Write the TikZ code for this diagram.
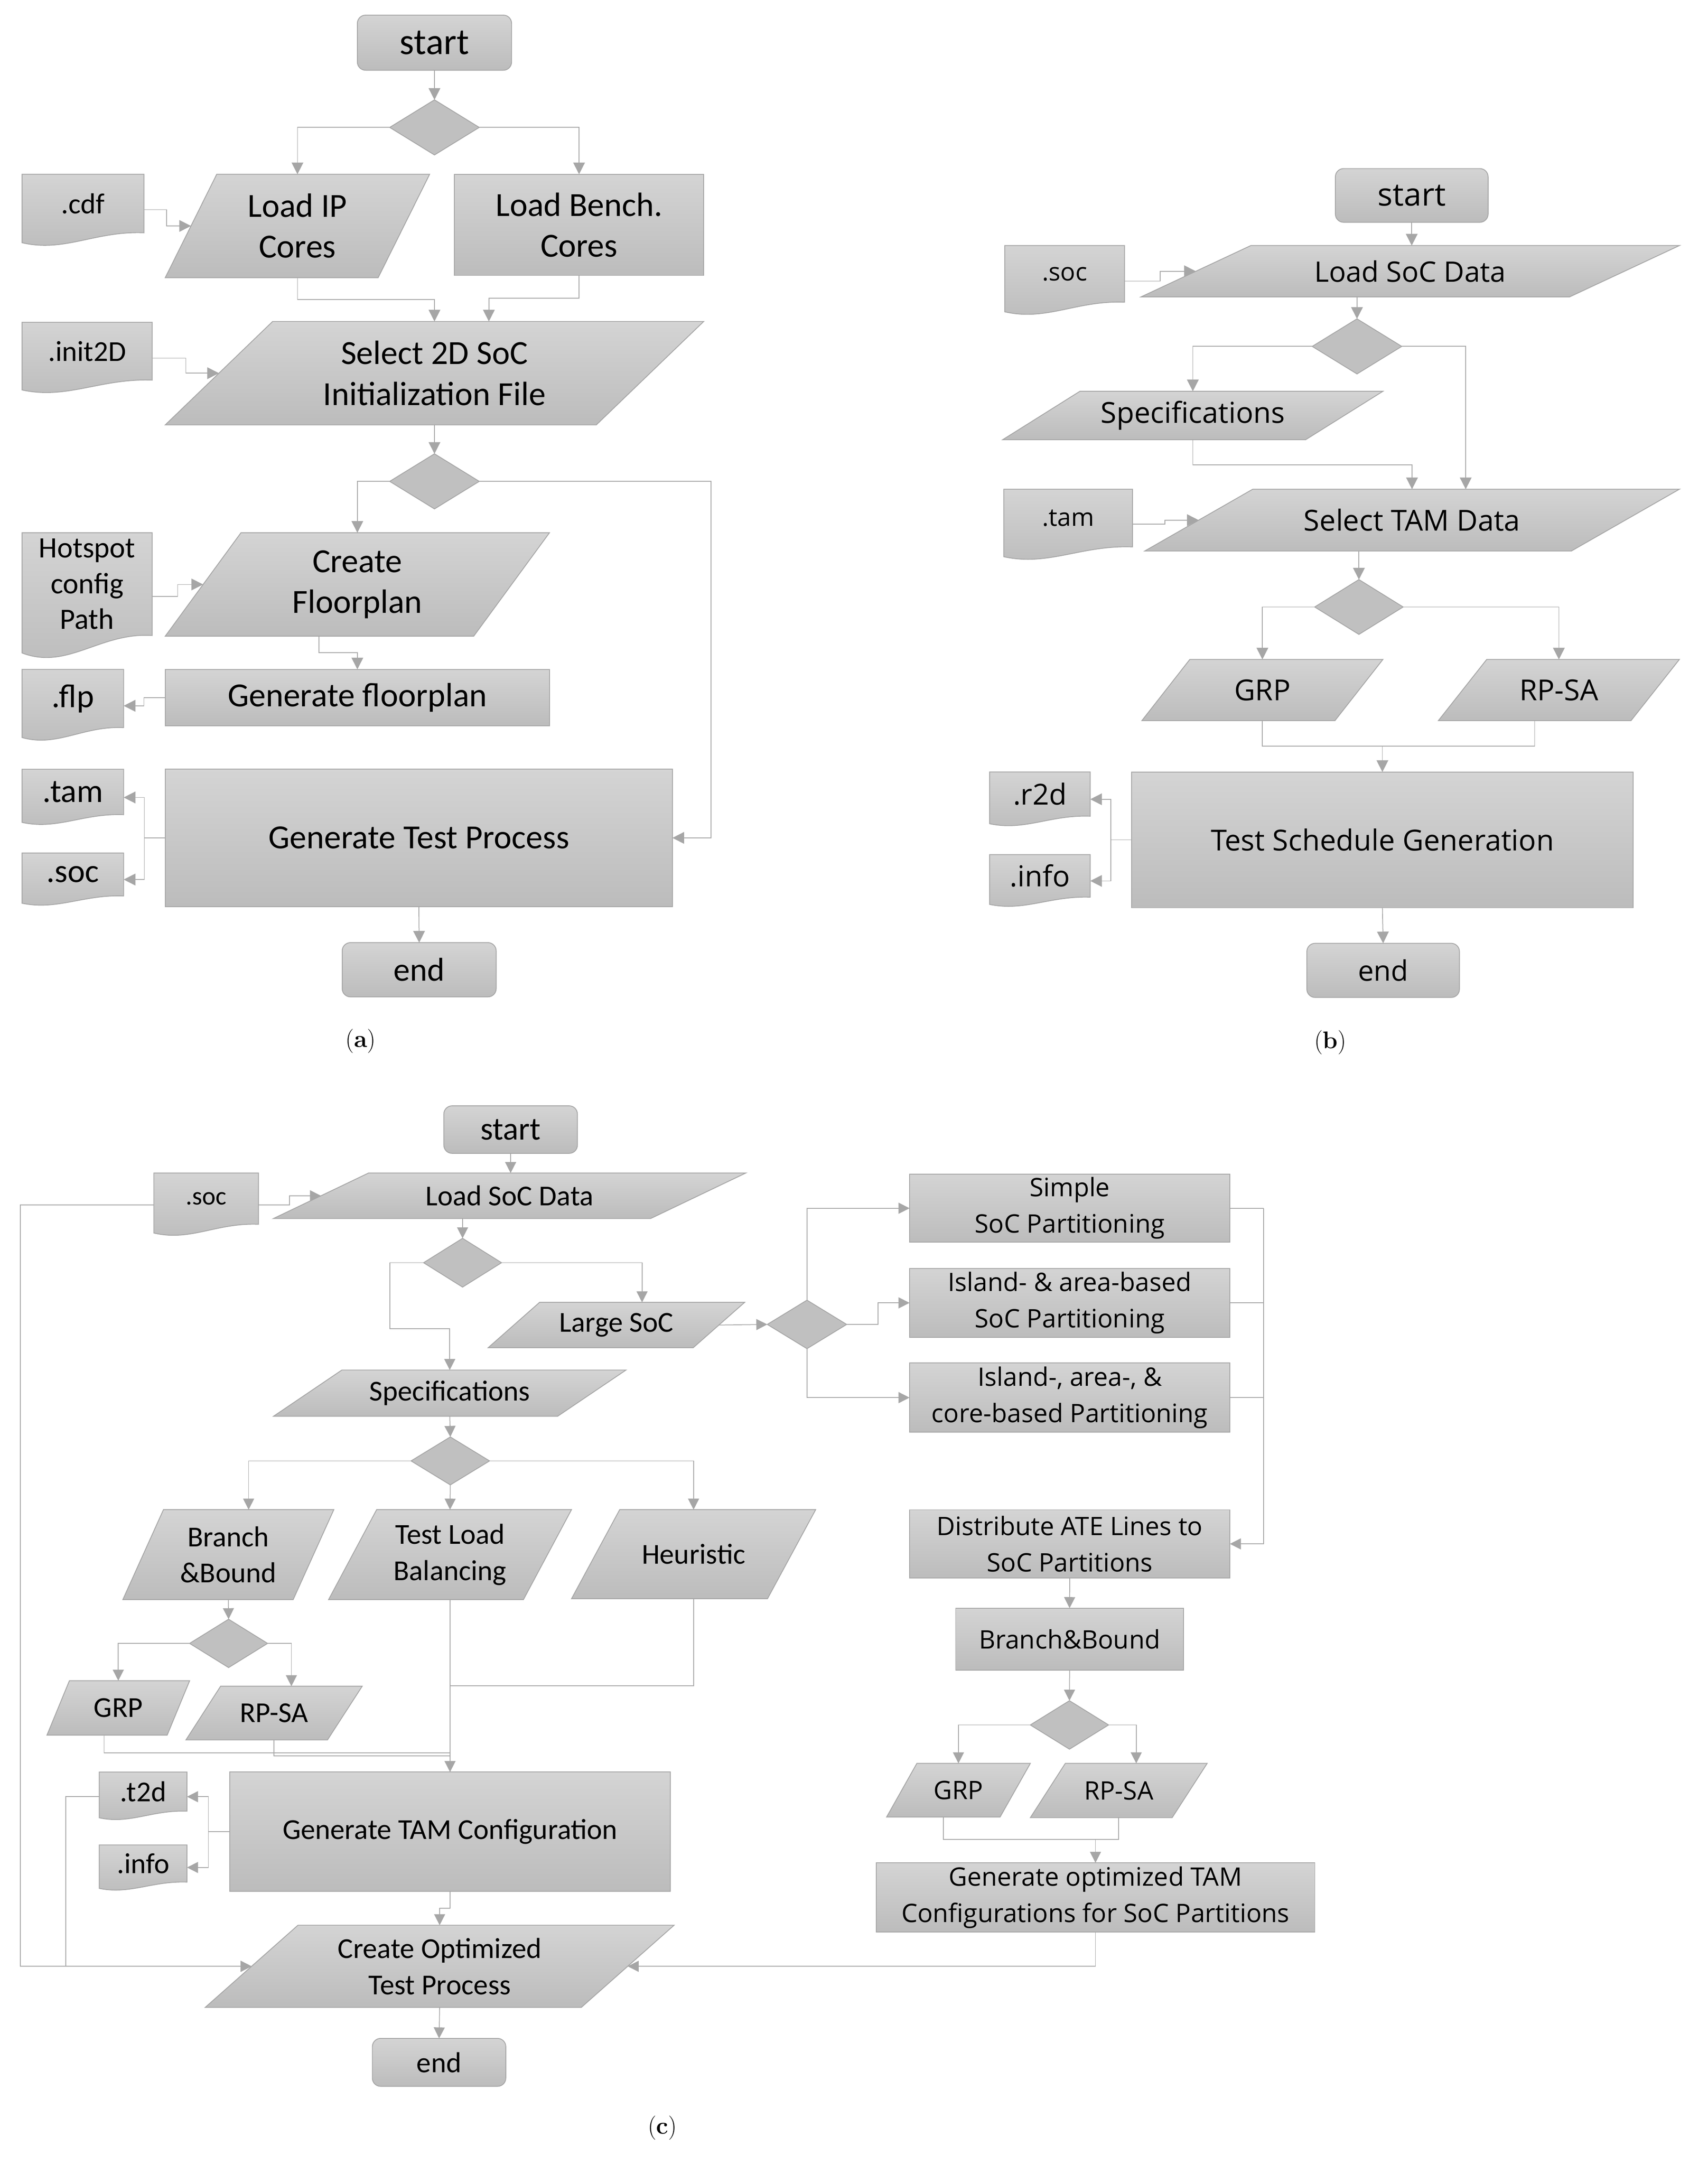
\documentclass[tikz,border=0pt]{standalone}
\usepackage{fontspec}
\newfontfamily\calib{Carlito}
\newfontfamily\osans{Open Sans}
\usetikzlibrary{shapes.geometric,arrows.meta,calc}
\definecolor{topc}{RGB}{212,212,212}
\definecolor{botc}{RGB}{188,188,188}
\definecolor{bordc}{RGB}{165,165,165}
\definecolor{linec}{RGB}{166,166,166}
\definecolor{diac}{RGB}{192,192,192}
\newcommand\fC[2]{\calib\fontsize{#1}{#2}\selectfont}
\newcommand\fO[2]{\osans\fontsize{#1}{#2}\selectfont}
\tikzset{
 shp/.style={draw=bordc, line width=0.6, top color=topc, bottom color=botc},
 txt/.style={inner sep=0, outer sep=0, align=center, text=black},
 boxn/.style={txt, draw=bordc, line width=0.6, top color=topc, bottom color=botc},
 rnd/.style={boxn, rounded corners=6},
 dia/.style={shape=diamond, draw=bordc, line width=0.6, fill=diac, inner sep=0, outer sep=0},
 conn/.style={draw=linec, line width=0.55, -{Triangle[length=8.5,width=8.5]}},
 connc/.style={draw=linec, line width=0.55, -{Triangle[length=8,width=8]}},
 ln/.style={draw=linec, line width=0.55},
 captxt/.style={font=\fontsize{17.5}{20}\selectfont}
}
% name, cx, cy, W, H, slant, font, text
\newcommand\mkpara[8]{%
  \path[shp] ({#2-#4/2+#6},{#3-#5/2}) -- ({#2+#4/2},{#3-#5/2}) -- ({#2+#4/2-#6},{#3+#5/2}) -- ({#2-#4/2},{#3+#5/2}) -- cycle;
  \node[txt, minimum width=#4, minimum height=#5, font={#7}] (#1) at (#2,#3) {#8};
}
% name, x1, y1, x2, yb, font, text
\newcommand\mkdoc[7]{%
  \path[shp] (#2,#3) -- (#4,#3) -- (#4,#5) .. controls ({#2+0.6*(#4-#2)},{#5-0.034*(#5-#3)}) and ({#2+0.35*(#4-#2)},{#5+0.34*(#5-#3)}) .. (#2,{#5+0.17*(#5-#3)}) -- cycle;
  \node[txt, minimum width={#4-#2}, minimum height={#5-#3}, font={#6}] (#1) at ({(#2+#4)/2},{(#3+#5)/2}) {#7};
}
\begin{document}
\begin{tikzpicture}[x=1pt,y=-1pt]
\useasboundingbox (0,0) rectangle (1240,1571.2);
\fill[white] (0,0) rectangle (1240,1571.2);

% ================= (a) =================
\node[rnd, minimum width=112, minimum height=40, font={\fC{27}{31}}] (sta) at (315.5,31) {start};
\node[dia, minimum width=65, minimum height=40] (da1) at (315.5,92.5) {};
\mkdoc{cdf}{16}{126.5}{104.5}{169}{\fC{21}{25.5}}{.cdf}
\mkpara{lip}{216}{164.05}{192}{75.1}{37.4}{\fC{24.5}{29.6}}{Load IP\\Cores}
\node[boxn, minimum width=181, minimum height=73.5, font={\fC{24.5}{29.6}}] (lbc) at (420.5,163.25) {Load Bench.\\Cores};
\mkdoc{ini}{16}{234}{110.5}{276}{\fC{21}{25.5}}{.init2D}
\mkpara{sel}{315.5}{270.95}{391}{75.1}{78}{\fC{24.5}{29.6}}{Select 2D SoC\\Initialization File}
\node[dia, minimum width=65, minimum height=40] (da2) at (315.5,349.5) {};
\mkdoc{hot}{16}{386.8}{110.5}{461.4}{\fC{21.5}{25.9}}{Hotspot\\config\\Path}
\mkpara{cfp}{259.5}{424.35}{279}{75.1}{55}{\fC{24.5}{29.6}}{Create\\Floorplan}
\node[boxn, minimum width=279, minimum height=41, font={\fC{24.5}{29.6}}] (gfp) at (259.5,506.5) {Generate floorplan};
\mkdoc{flp}{16}{486}{89.8}{528.3}{\fC{24}{29}}{.flp}
\node[boxn, minimum width=368.3, minimum height=99.7, font={\fC{24.5}{29.6}}] (gtp) at (304.15,608.35) {Generate Test Process};
\mkdoc{tama}{16}{558.5}{89.8}{591.5}{\fC{24}{29}}{.tam}
\mkdoc{soca}{16}{619.3}{89.8}{650.5}{\fC{24}{29}}{.soc}
\node[rnd, minimum width=111.8, minimum height=39.4, font={\fC{24}{29}}] (enda) at (304.4,704.1) {end};
\node[captxt] (capa) at (262,756) {(\textbf{a})};

\draw[conn] (sta.south) -- (da1.north);
\draw[conn] (da1.west) -| (lip.north);
\draw[conn] (da1.east) -| (lbc.north);
\draw[conn] ($(cdf.east)+(0,4.5)$) -- ++(16.5,0) |- ($(lip.west)+(18.7,0)$);
\draw[conn] (lip.south) -- ++(0,15.9) -| (sel.north);
\draw[conn] (lbc.south) -- ++(0,16.5) -| ($(sel.north)+(39.5,0)$);
\draw[conn] ($(ini.east)+(0,5)$) -- ++(24.5,0) |- ($(sel.west)+(39,0)$);
\draw[conn] (sel.south) -- (da2.north);
\draw[conn] (da2.west) -| (cfp.north);
\draw[conn] (da2.east) -- ++(168.4,0) |- (gtp.east);
\draw[conn] ($(hot.east)+(0,8.9)$) -- ++(18.5,0) |- ($(cfp.west)+(27.5,0)$);
\draw[conn] ($(cfp.south)+(-27.8,0)$) -- ++(0,11.9) -| (gfp.north);
\draw[conn] (gfp.west) -- ++(-15.5,0) |- ($(flp.east)+(0,5.3)$);
\draw[conn] (gtp.west) -- ++(-15.2,0) coordinate (ja) |- ($(tama.east)+(0,4)$);
\draw[conn] (ja) |- ($(soca.east)+(0,3.7)$);
\draw[conn] (gtp.south) -- (enda.north);

% ================= (b) =================
\node[rnd, minimum width=110.9, minimum height=39, font={\fO{23}{30}}] (stb) at (1025.15,141.9) {start};
\mkdoc{socb}{729.6}{178.3}{816.6}{219.4}{\fO{18}{24}}{.soc}
\mkpara{lsd}{1024}{196.95}{391}{37.3}{79.8}{\fO{20.5}{28}}{Load SoC Data}
\node[dia, minimum width=65, minimum height=40] (db1) at (985.4,251.5) {};
\mkpara{specb}{866.2}{301.65}{276}{35.1}{56}{\fO{21}{28}}{Specifications}
\mkdoc{tamb}{728.9}{355.2}{822.4}{397.1}{\fO{18}{24}}{.tam}
\mkpara{tsel}{1025.35}{377.65}{388.3}{44.9}{78.5}{\fO{21}{28}}{Select TAM Data}
\node[dia, minimum width=64.2, minimum height=39.8] (db2) at (986.8,440.7) {};
\mkpara{grpb}{916.7}{501}{175}{44.4}{34.8}{\fO{21}{28}}{GRP}
\mkpara{rpsb}{1132}{501}{175}{44.4}{35.1}{\fO{21}{28}}{RP-SA}
\node[boxn, minimum width=364.3, minimum height=98.6, font={\fO{21}{28}}] (tsg) at (1003.85,609.8) {Test Schedule Generation};
\mkdoc{r2d}{718.6}{560.5}{791.7}{592.6}{\fO{21}{28}}{.r2d}
\mkdoc{infb}{718.6}{620.5}{791.7}{651.4}{\fO{21}{28}}{.info}
\node[rnd, minimum width=110.8, minimum height=39.3, font={\fO{20.5}{28}}] (endb) at (1004.4,704.55) {end};
\node[captxt] (capb) at (966,757) {(\textbf{b})};

\draw[conn] (stb.south) -- (stb.south |- lsd.north);
\draw[conn] ($(socb.east)+(0,5.25)$) -- ++(25.9,0) |- ($(lsd.west)+(39.9,0)$);
\draw[conn] ($(lsd.south)+(-38.6,0)$) -- (db1.north);
\draw[conn] (db1.west) -| (specb.north);
\draw[conn] (db1.east) -| ($(tsel.north)+(39,0)$);
\draw[conn] (specb.south) -- ++(0,18.2) -| (tsel.north);
\draw[conn] ($(tamb.east)+(0,4.45)$) -- ++(23.5,0) |- ($(tsel.west)+(39.25,0)$);
\draw[conn] ($(tsel.south)+(-38.55,0)$) -- (db2.north);
\draw[conn] (db2.west) -| (grpb.north);
\draw[conn] (db2.east) -| (rpsb.north);
\draw[ln] (grpb.south) -- ++(0,18.6) coordinate (jb1) -| ($(rpsb.south)+(-17.6,0)$);
\draw[conn] (jb1 -| tsg.north) -- (tsg.north);
\draw[conn] (tsg.west) -- ++(-15,0) coordinate (jb2) |- ($(r2d.east)+(0,3.75)$);
\draw[conn] (jb2) |- ($(infb.east)+(0,3.65)$);
\draw[conn] (tsg.south) -- (endb.north);

% ================= (c) =================
\node[rnd, minimum width=97, minimum height=34.5, font={\fC{23.5}{28}}] (stc) at (370.8,820.15) {start};
\mkdoc{socc}{111.7}{851.7}{187.7}{888.9}{\fC{18.5}{22}}{.soc}
\mkpara{lsdc}{370.05}{868.2}{342.9}{33}{69}{\fC{21}{26.3}}{Load SoC Data}
\node[dia, minimum width=56.6, minimum height=35.4] (dc1) at (335.9,916.8) {};
\mkpara{large}{447.6}{962.05}{186.2}{32.9}{37.3}{\fC{21}{26.3}}{Large SoC}
\node[dia, minimum width=57.6, minimum height=35.2] (dc2) at (586,961.6) {};
\node[boxn, minimum width=232.6, minimum height=49.5, font={\fO{18.5}{26.4}}] (simp) at (776.8,877.25) {Simple\\SoC Partitioning};
\node[boxn, minimum width=232.6, minimum height=49.9, font={\fO{18.5}{26.4}}] (isl) at (776.8,945.95) {Island- \& area-based\\SoC Partitioning};
\node[boxn, minimum width=232.6, minimum height=50.3, font={\fO{18.5}{26.4}}] (cor) at (776.8,1014.75) {Island-, area-, \&\\core-based Partitioning};
\node[boxn, minimum width=232.6, minimum height=49.5, font={\fO{18.5}{26.4}}] (dist) at (776.8,1120.95) {Distribute ATE Lines to\\SoC Partitions};
\node[boxn, minimum width=165.4, minimum height=45, font={\fO{18.5}{26.4}}] (bbr) at (776.7,1190.1) {Branch\&Bound};
\node[dia, minimum width=56.8, minimum height=35.2] (dc5) at (776.6,1252.4) {};
\mkpara{grpr}{696}{1299.8}{104.4}{39}{22}{\fO{18.5}{26.4}}{GRP}
\mkpara{rpsr}{812.4}{1300}{128.4}{39.4}{25.4}{\fO{18.5}{26.4}}{RP-SA}
\node[boxn, minimum width=318.6, minimum height=50.3, font={\fO{18.5}{26.4}}] (gen) at (795.5,1377.65) {Generate optimized TAM\\Configurations for SoC Partitions};
\mkpara{specc}{326.6}{1011.5}{256}{33.6}{49.7}{\fC{21}{26.3}}{Specifications}
\node[dia, minimum width=57, minimum height=34.8] (dc3) at (327,1060.7) {};
\mkpara{bbc}{165.8}{1128.75}{153.2}{65.3}{29.5}{\fC{21}{26.3}}{Branch\\\&Bound}
\mkpara{tlb}{326.8}{1128.75}{176.4}{65.3}{34.9}{\fC{21}{26.3}}{Test Load\\Balancing}
\mkpara{heur}{503.65}{1128.45}{177.3}{64.7}{35}{\fC{21}{26.3}}{Heuristic}
\node[dia, minimum width=56.6, minimum height=35.1] (dc4) at (166,1193.2) {};
\mkpara{grpc}{85.9}{1240.05}{103.6}{39.5}{16.3}{\fC{21}{26.3}}{GRP}
\mkpara{rpsc}{199}{1243.8}{128}{39}{25.2}{\fC{21}{26.3}}{RP-SA}
\node[boxn, minimum width=320, minimum height=86.7, font={\fC{21}{26.3}}] (gtc) at (326.8,1329.95) {Generate TAM Configuration};
\mkdoc{t2d}{72.1}{1286.6}{135.8}{1315}{\fC{21}{26}}{.t2d}
\mkdoc{infc}{72.1}{1339.5}{135.8}{1366.5}{\fC{21}{26}}{.info}
\mkpara{cot}{319.25}{1427.65}{340.5}{59.7}{67.4}{\fC{21}{26.3}}{Create Optimized\\Test Process}
\node[rnd, minimum width=96.9, minimum height=34.8, font={\fC{21}{26}}] (endc) at (318.85,1497.4) {end};
\node[captxt] (capc) at (481,1545) {(\textbf{c})};

\draw[connc] (stc.south) -- (stc.south |- lsdc.north);
\draw[connc] ($(socc.east)+(0,4.5)$) -- ++(22.5,0) |- ($(lsdc.west)+(34.5,0)$);
\draw[connc] ($(socc.west)+(0,4.5)$) -- ++(-97,0) |- ($(cot.west)+(33.7,0)$);
\draw[connc] ($(lsdc.south)+(-34.15,0)$) -- (dc1.north);
\draw[connc] (dc1.west) -- ++(-24.4,0) -- ++(0,48) -| (specc.north);
\draw[connc] (dc1.east) -| ($(large.north)+(18.65,0)$);
\draw[connc] ($(large.east)+(-18.65,0)$) -- (dc2.west);
\draw[connc] (dc2.north) |- (simp.west);
\draw[connc] (dc2.east) -- ++(22.8,0) |- (isl.west);
\draw[connc] (dc2.south) |- (cor.west);
\draw[ln] (simp.east) -- ++(24.5,0) coordinate (cr1);
\draw[ln] (isl.east) -- (isl.east -| cr1);
\draw[ln] (cor.east) -- (cor.east -| cr1);
\draw[connc] (cr1) |- (dist.east);
\draw[connc] (dist.south) -- (bbr.north);
\draw[connc] (bbr.south) -- (dc5.north);
\draw[connc] (dc5.west) -| (grpr.north);
\draw[connc] (dc5.east) -| ($(rpsr.north)+(12.7,0)$);
\draw[ln] ($(grpr.south)+(-11,0)$) -- ++(0,16.2) coordinate (jr1) -| (rpsr.south);
\draw[connc] (jr1 -| gen.north) -- (gen.north);
\draw[connc] (gen.south) |- ($(cot.east)+(-33.7,0)$);
\draw[connc] (specc.south) -- (dc3.north);
\draw[connc] (dc3.west) -| ($(bbc.north)+(14.75,0)$);
\draw[connc] (dc3.south) -- (tlb.north);
\draw[connc] (dc3.east) -| (heur.north);
\draw[connc] (bbc.south) -- (dc4.north);
\draw[connc] (dc4.west) -| (grpc.north);
\draw[connc] (dc4.east) -| ($(rpsc.north)+(12.6,0)$);
\draw[ln] (heur.south) |- ($(tlb.south)+(0,62.5)$);
\draw[ln] ($(grpc.south)+(-10.3,0)$) |- ($(tlb.south)+(0,111.3)$);
\draw[ln] (rpsc.south) |- ($(tlb.south)+(0,113.5)$);
\draw[connc] (tlb.south) -- (gtc.north);
\draw[connc] (gtc.west) -- ++(-15.5,0) coordinate (jc) |- ($(t2d.east)+(0,3.7)$);
\draw[connc] (jc) |- ($(infc.east)+(0,2.9)$);
\draw[connc] ($(t2d.west)+(0,3.7)$) -- ++(-24.4,0) |- ($(cot.west)+(33.7,0)$);
\draw[connc] (gtc.south) -- ++(0,12.2) -| (cot.north);
\draw[connc] (cot.south) -- (endc.north);
\end{tikzpicture}
\end{document}
